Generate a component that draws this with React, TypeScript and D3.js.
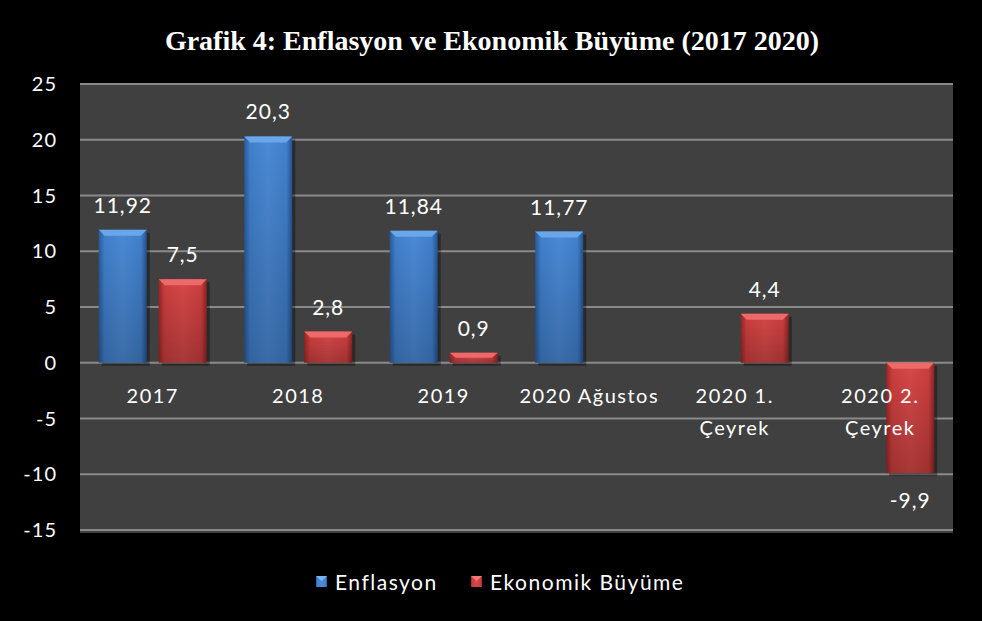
import React from "react";
import * as d3 from "d3";

const categories: string[][] = [["2017"], ["2018"], ["2019"], ["2020 Ağustos"], ["2020 1.", "Çeyrek"], ["2020 2.", "Çeyrek"]];
const enflasyon: (number | null)[] = [11.92, 20.3, 11.84, 11.77, null, null];
const buyume: (number | null)[] = [7.5, 2.8, 0.9, null, 4.4, -9.9];
const yTicks = [25, 20, 15, 10, 5, 0, -5, -10, -15];
const seriesNames = ["Enflasyon", "Ekonomik Büyüme"];

const W = 982, H = 621;
const plot = { left: 80, right: 953, top: 84, bottom: 530 };
const FONT = "Lato, 'Open Sans', sans-serif";

function fmt(v: number) {
  return String(v).replace(".", ",");
}

export default function App() {
  const x = d3.scaleBand<number>().domain(d3.range(categories.length)).range([plot.left, plot.right]);
  const y = d3.scaleLinear().domain([-15, 25]).range([plot.bottom, plot.top]);
  const barW = 48;
  const gap = 12;
  const series = [
    { vals: enflasyon, grad: "gBlue", top: "#6aa6ea", off: -(barW + gap) / 2 },
    { vals: buyume, grad: "gRed", top: "#ee6a6a", off: (barW + gap) / 2 },
  ];
  const y0 = y(0);
  return (
    <svg width={W} height={H} style={{ position: "absolute", left: 0, top: 0, background: "#000" }}>
      <defs>
        <linearGradient id="gBlue" x1="0" x2="1" y1="0" y2="0">
          <stop offset="0" stopColor="#2a5a9c" />
          <stop offset="0.12" stopColor="#4080cc" />
          <stop offset="0.5" stopColor="#4c8ad6" />
          <stop offset="0.88" stopColor="#4080cc" />
          <stop offset="1" stopColor="#25528e" />
        </linearGradient>
        <linearGradient id="gRed" x1="0" x2="1" y1="0" y2="0">
          <stop offset="0" stopColor="#9a2626" />
          <stop offset="0.12" stopColor="#cc3e3e" />
          <stop offset="0.5" stopColor="#d64848" />
          <stop offset="0.88" stopColor="#cc3e3e" />
          <stop offset="1" stopColor="#8e2424" />
        </linearGradient>
        <linearGradient id="gShadeB" x1="0" x2="0" y1="0" y2="1">
          <stop offset="0" stopColor="#000" stopOpacity="0" />
          <stop offset="1" stopColor="#000" stopOpacity="0.22" />
        </linearGradient>
      </defs>
      <rect x={0} y={0} width={W} height={H} fill="#000" />
      <text x={492} y={50} textAnchor="middle" fill="#fff" fontFamily="'Liberation Serif', 'Times New Roman', serif" fontWeight="bold" fontSize={28}>
        Grafik 4: Enflasyon ve Ekonomik  Büyüme (2017 2020)
      </text>
      <rect x={plot.left} y={plot.top} width={plot.right - plot.left} height={plot.bottom - plot.top + 3} fill="#404040" />
      {yTicks.map((t) => (
        <g key={t}>
          <line x1={plot.left} x2={plot.right} y1={y(t)} y2={y(t)} stroke="#8a8a8a" strokeWidth={2} />
          <text x={57} y={y(t) + 7} textAnchor="end" fill="#fff" fontFamily={FONT} fontSize={20} letterSpacing={1}>{t}</text>
        </g>
      ))}
      {series.map((s, si) =>
        s.vals.map((v, i) => {
          if (v == null) return null;
          const cx = (x(i) as number) + x.bandwidth() / 2 + s.off;
          const bx = cx - barW / 2;
          const yt = Math.min(y(v), y0);
          const h = Math.abs(y(v) - y0);
          const bev = Math.min(6, h / 2);
          const isPos = v >= 0;
          return (
            <g key={`${si}-${i}`}>
              <rect x={bx + 3} y={yt + 3} width={barW} height={h} fill="#000" opacity={0.35} />
              <rect x={bx} y={yt} width={barW} height={h} fill={`url(#${s.grad})`} />
              <rect x={bx} y={yt} width={barW} height={h} fill="url(#gShadeB)" />
              <polygon points={`${bx},${yt} ${bx + barW},${yt} ${bx + barW - 6},${yt + bev} ${bx + 6},${yt + bev}`} fill={s.top} />
              <text x={cx} y={isPos ? y(v) - 17 : y(v) + 35} textAnchor="middle" fill="#fff" fontFamily={FONT} fontSize={21} letterSpacing={1}>{fmt(v)}</text>
            </g>
          );
        })
      )}
      {categories.map((c, i) => (
        <text key={i} textAnchor="middle" fill="#fff" fontFamily={FONT} fontSize={20} letterSpacing={1.5}>
          {c.map((line, li) => (
            <tspan key={li} x={(x(i) as number) + x.bandwidth() / 2} y={y0 + 40 + li * 32}>{line}</tspan>
          ))}
        </text>
      ))}
      {seriesNames.map((n, i) => {
        const lx = i === 0 ? 316 : 471;
        return (
          <g key={n}>
            <rect x={lx} y={576} width={11} height={11} fill={i === 0 ? "url(#gBlue)" : "url(#gRed)"} />
            <polygon points={`${lx},576 ${lx + 11},576 ${lx + 5.5},581`} fill={i === 0 ? "#7ab4f0" : "#f07a7a"} />
            <text x={lx + 19} y={590} fill="#fff" fontFamily={FONT} fontSize={21} letterSpacing={1.5}>{n}</text>
          </g>
        );
      })}
    </svg>
  );
}
